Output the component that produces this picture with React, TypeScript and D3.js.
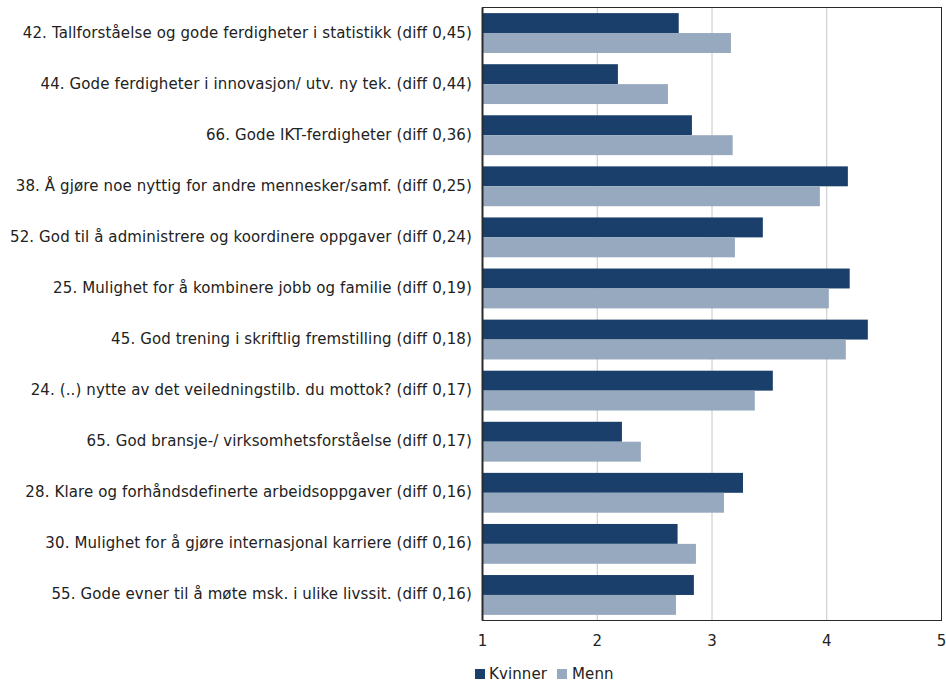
import React from "react";
import * as d3 from "d3";

const categories = [
  "42. Tallforståelse og gode ferdigheter i statistikk (diff 0,45)",
  "44. Gode ferdigheter i innovasjon/ utv. ny tek. (diff 0,44)",
  "66. Gode IKT-ferdigheter (diff 0,36)",
  "38. Å gjøre noe nyttig for andre mennesker/samf. (diff 0,25)",
  "52. God til å administrere og koordinere oppgaver (diff 0,24)",
  "25. Mulighet for å kombinere jobb og familie (diff 0,19)",
  "45. God trening i skriftlig fremstilling (diff 0,18)",
  "24. (..) nytte av det veiledningstilb. du mottok? (diff 0,17)",
  "65. God bransje-/ virksomhetsforståelse (diff 0,17)",
  "28. Klare og forhåndsdefinerte arbeidsoppgaver (diff 0,16)",
  "30. Mulighet for å gjøre internasjonal karriere (diff 0,16)",
  "55. Gode evner til å møte msk. i ulike livssit. (diff 0,16)",
];
const kvinner = [2.71, 2.18, 2.825, 4.184, 3.443, 4.2, 4.358, 3.53, 2.215, 3.27, 2.7, 2.842];
const menn = [3.165, 2.616, 3.18, 3.94, 3.2, 4.018, 4.166, 3.373, 2.38, 3.104, 2.86, 2.686];
const seriesNames = ["Kvinner", "Menn"];
const seriesColors = ["#193f6a", "#97a9be"];
const xTicks = [1, 2, 3, 4, 5];

export default function App() {
  const W = 946, H = 681;
  const left = 482.5, right = 941.5, top = 7.5, bottom = 620.5;
  const x = d3.scaleLinear().domain([1, 5]).range([left, right]);
  const y = d3.scaleBand<string>().domain(categories).range([top, bottom]).paddingInner(0.22).paddingOuter(0.11);
  const sub = d3.scaleBand<string>().domain(seriesNames).range([0, y.bandwidth()]);
  const font = "Verdana, 'DejaVu Sans', sans-serif";
  const series = [kvinner, menn];
  const fs = 15;
  const ls = 0.12;
  return (
    <svg width={W} height={H} style={{ position: "absolute", left: 0, top: 0 }} fontFamily={font}>
      <rect x={0} y={0} width={W} height={H} fill="#fff" />
      {xTicks.slice(1, -1).map((t) => (
        <line key={t} x1={x(t)} x2={x(t)} y1={top} y2={bottom} stroke="#c6c6c6" strokeWidth={1} />
      ))}
      {series.map((vals, si) =>
        vals.map((v, i) => (
          <rect
            key={si + "-" + i}
            x={x(1)}
            y={(y(categories[i]) as number) + (sub(seriesNames[si]) as number)}
            width={x(v) - x(1)}
            height={sub.bandwidth()}
            fill={seriesColors[si]}
          />
        ))
      )}
      <rect x={left} y={top} width={right - left} height={bottom - top} fill="none" stroke="#2b2b2b" strokeWidth={1} />
      <line x1={left} x2={left} y1={top} y2={bottom} stroke="#2b2b2b" strokeWidth={2} />
      {categories.map((c) => (
        <text key={c} x={472} y={(y(c) as number) + y.bandwidth() / 2} textAnchor="end" dominantBaseline="middle" fontSize={fs} letterSpacing={ls} fill="#222">
          {c}
        </text>
      ))}
      {xTicks.map((t) => (
        <text key={t} x={x(t)} y={641} textAnchor="middle" dominantBaseline="middle" fontSize={fs} fill="#222">
          {t}
        </text>
      ))}
      <g transform="translate(475,669)">
        <rect x={0} y={0} width={10} height={10} fill={seriesColors[0]} />
        <text x={14} y={5} dominantBaseline="middle" fontSize={fs} letterSpacing={ls} fill="#222">{seriesNames[0]}</text>
        <rect x={82} y={0} width={10} height={10} fill={seriesColors[1]} />
        <text x={97} y={5} dominantBaseline="middle" fontSize={fs} letterSpacing={ls} fill="#222">{seriesNames[1]}</text>
      </g>
    </svg>
  );
}
